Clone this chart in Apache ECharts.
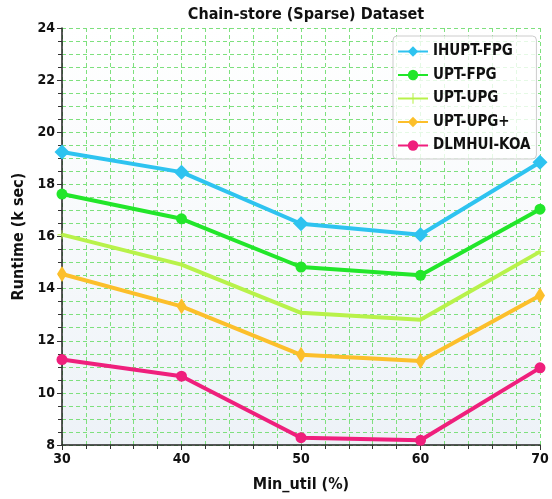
<!DOCTYPE html>
<html>
<head>
<meta charset="utf-8">
<script src="https://cdn.jsdelivr.net/npm/echarts@6/dist/echarts.min.js"></script>
<style>html,body{margin:0;padding:0;background:#fff}#c{width:552px;height:499px}</style>
</head>
<body>
<div id="c"></div>
<script>
var minUtil = [30, 40, 50, 60, 70];
var ihuptFpg = [19.24, 18.47, 16.49, 16.07, 18.85];
var uptFpg = [17.63, 16.68, 14.83, 14.51, 17.05];
var uptUpg = [16.07, 14.92, 13.07, 12.81, 15.42];
var uptUpgPlus = [14.56, 13.32, 11.46, 11.22, 13.74];
var dlmhuiKoa = [11.28, 10.64, 8.28, 8.18, 10.96];
var seriesNames = ['IHUPT-FPG', 'UPT-FPG', 'UPT-UPG', 'UPT-UPG+', 'DLMHUI-KOA'];

var FONT = 'DejaVu Sans Condensed, DejaVu Sans, sans-serif';
function pairs(arr){ return minUtil.map(function(x,i){ return [x, arr[i]]; }); }
var plusPath = 'path://M4.5,0 L5.5,0 L5.5,4.5 L10,4.5 L10,5.5 L5.5,5.5 L5.5,10 L4.5,10 L4.5,5.5 L0,5.5 L0,4.5 L4.5,4.5 Z';

function mk(name, data, color, symbol, size){
  return {
    name: name, type: 'line', data: pairs(data),
    symbol: symbol, symbolSize: size,
    lineStyle: {color: color, width: 4},
    itemStyle: {color: color},
    emphasis: {disabled: true}
  };
}
var gridLine = {show: true, lineStyle: {color: '#7ee07e', type: [4, 3], width: 1}};

var chart = echarts.init(document.getElementById('c'));
chart.setOption({
  animation: false,
  backgroundColor: '#ffffff',
  title: {
    text: 'Chain-store (Sparse) Dataset', left: 301, top: 2, textAlign: 'center',
    textStyle: {fontFamily: FONT, fontWeight: 'bold', fontSize: 16, color: '#111'}
  },
  legend: {
    data: seriesNames, orient: 'vertical', left: 393, top: 36,
    itemWidth: 30, itemHeight: 13, itemGap: 8.5,
    padding: [8, 6, 6, 4],
    backgroundColor: 'rgba(255,255,255,0.8)', borderColor: '#cccccc', borderWidth: 1, borderRadius: 4,
    textStyle: {fontFamily: FONT, fontWeight: 'bold', fontSize: 15, color: '#111'}
  },
  grid: {
    left: 62, right: 12, top: 28, bottom: 54, show: true, borderWidth: 0,
    backgroundColor: new echarts.graphic.LinearGradient(0, 0, 0, 1, [
      {offset: 0, color: '#ffffff'}, {offset: 0.45, color: '#f8fafc'}, {offset: 1, color: '#edf2f7'}
    ])
  },
  xAxis: {
    type: 'value', min: 30, max: 70, interval: 10,
    name: 'Min_util (%)', nameLocation: 'middle', nameGap: 32,
    nameTextStyle: {fontFamily: FONT, fontWeight: 'bold', fontSize: 16, color: '#111'},
    axisLine: {show: true, lineStyle: {color: '#222', width: 1.5}},
    axisTick: {show: true, length: 5, lineStyle: {color: '#333'}},
    minorTick: {show: true, splitNumber: 5, length: 4, lineStyle: {color: '#333'}},
    axisLabel: {fontFamily: FONT, fontWeight: 'bold', fontSize: 14, color: '#111', margin: 7},
    splitLine: gridLine,
    minorSplitLine: gridLine
  },
  yAxis: {
    type: 'value', min: 8, max: 24, interval: 2,
    name: 'Runtime (k sec)', nameLocation: 'middle', nameGap: 29, nameRotate: 90,
    nameTextStyle: {fontFamily: FONT, fontWeight: 'bold', fontSize: 16, color: '#111'},
    axisLine: {show: true, lineStyle: {color: '#222', width: 1.5}},
    axisTick: {show: true, length: 5, lineStyle: {color: '#333'}},
    minorTick: {show: true, splitNumber: 4, length: 4, lineStyle: {color: '#333'}},
    axisLabel: {fontFamily: FONT, fontWeight: 'bold', fontSize: 14, color: '#111', margin: 7},
    splitLine: gridLine,
    minorSplitLine: gridLine
  },
  series: [
    mk(seriesNames[0], ihuptFpg, '#2ec3f0', 'diamond', 15),
    mk(seriesNames[1], uptFpg, '#22e62a', 'circle', 11),
    mk(seriesNames[2], uptUpg, '#b8f24a', plusPath, 9),
    mk(seriesNames[3], uptUpgPlus, '#fcbf2b', 'diamond', [10, 16]),
    mk(seriesNames[4], dlmhuiKoa, '#ef1f7c', 'circle', 11)
  ]
});
</script>
</body>
</html>
